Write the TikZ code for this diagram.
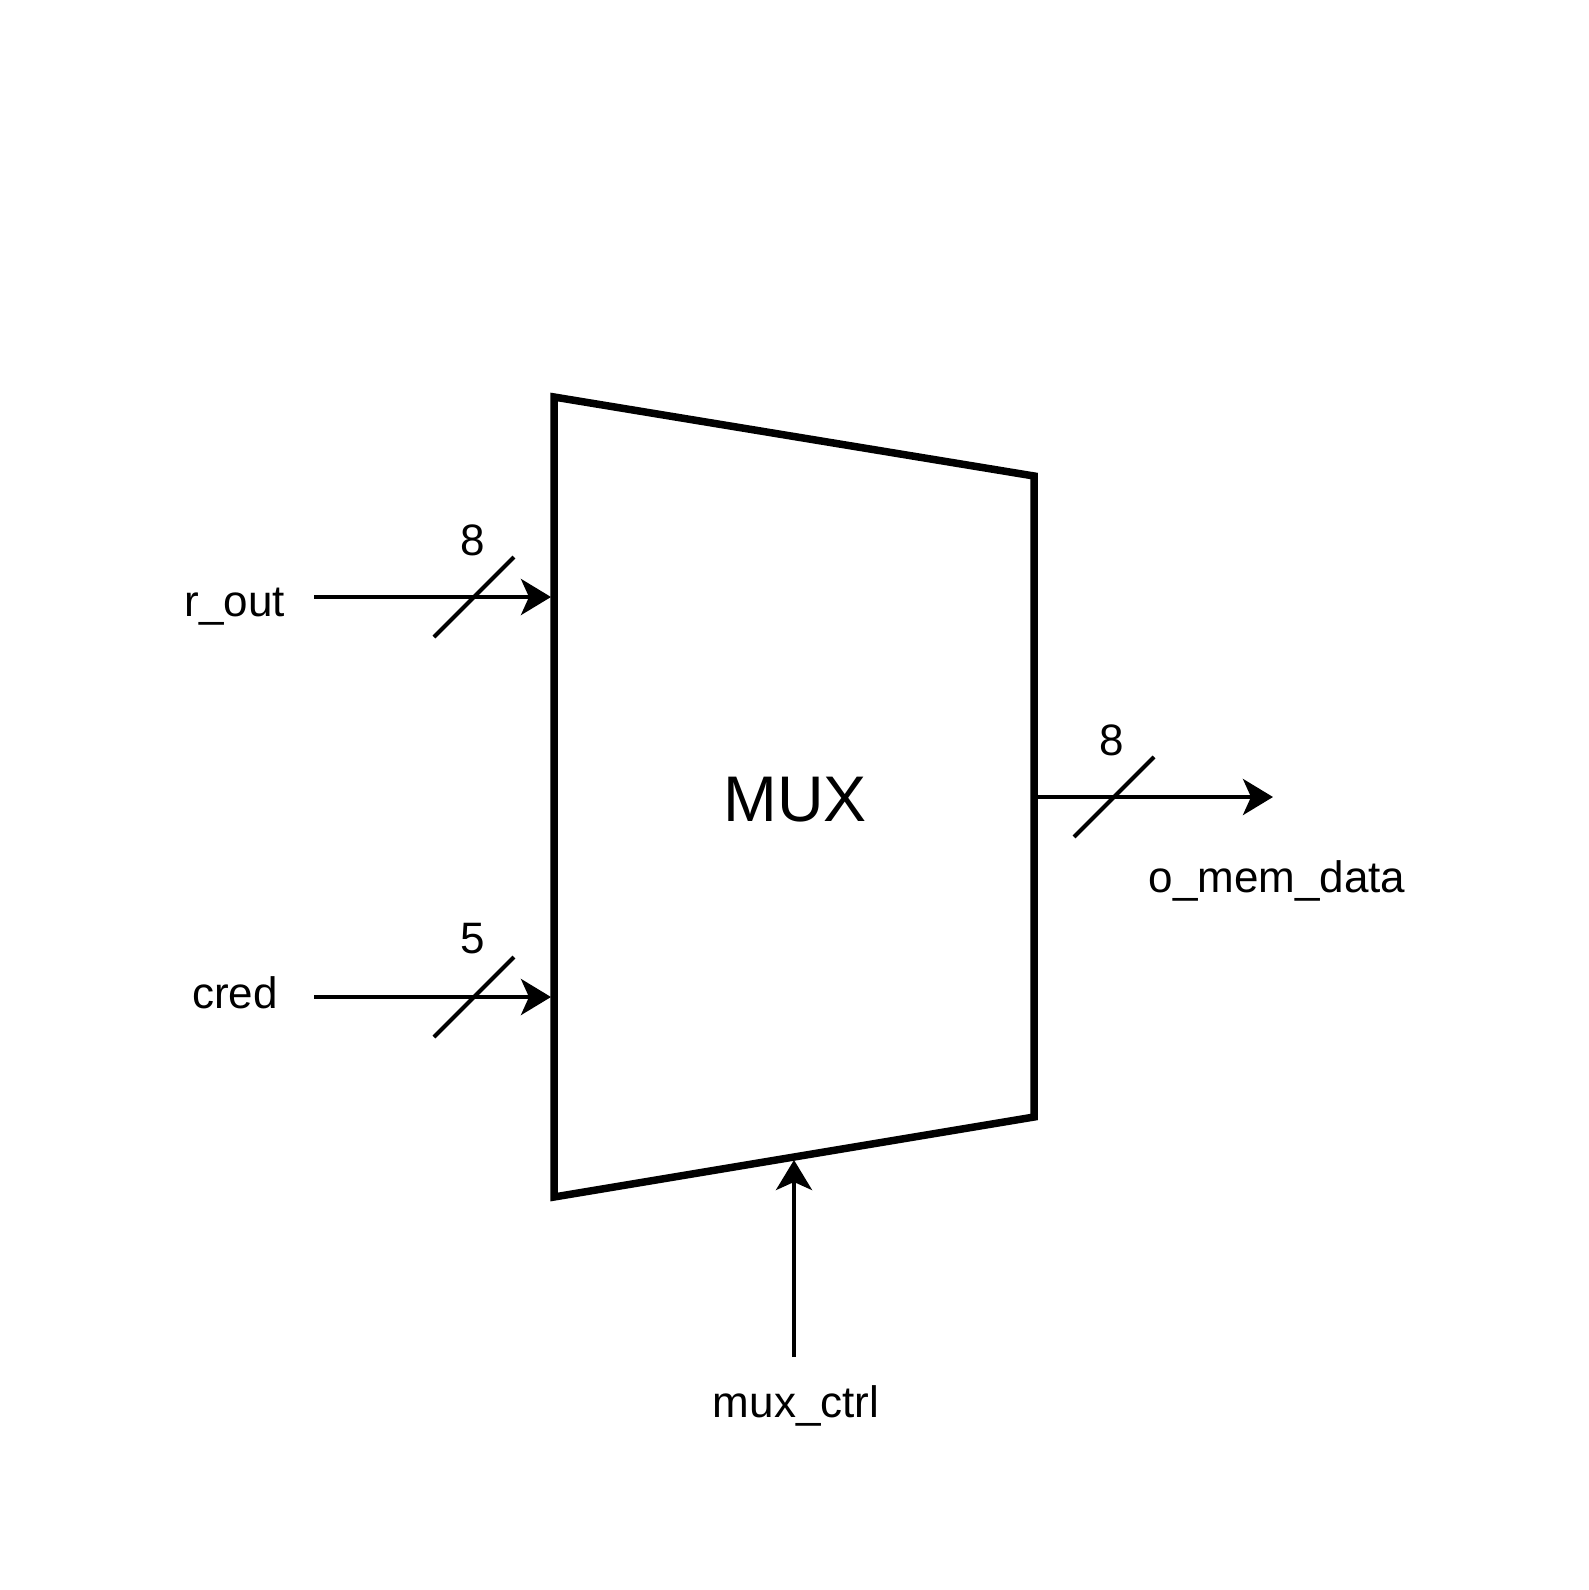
\documentclass[tikz,border=0pt]{standalone}
\usepackage{fontspec}
\setmainfont{Liberation Sans}
\usetikzlibrary{arrows.meta}
\begin{document}
\begin{tikzpicture}[x=1pt,y=-1pt,
  lbl/.style={inner sep=0pt,anchor=base,font=\fontsize{44}{50}\selectfont},
  bigl/.style={inner sep=0pt,anchor=base,font=\fontsize{64.5}{72}\selectfont},
  muxbox/.style={line width=7.5pt,line join=miter},
  wire/.style={line width=4.2pt,-{Stealth[length=30pt,width=36pt,inset=8pt]}},
  busmark/.style={line width=4.2pt}]
\useasboundingbox (0,0) rectangle (1588,1590);
% mux body
\coordinate (tl) at (554,397);
\coordinate (tr) at (1034,476);
\coordinate (br) at (1034,1117);
\coordinate (bl) at (554,1197);
\draw[muxbox] (tl) -- (tr) -- (br) -- (bl) -- cycle;
\node[bigl] (mux) at (795,821) {MUX};
% input r_out
\node[lbl] (rout) at (235,616) {r\_out};
\coordinate (routS) at (314,597);
\coordinate (in1) at (551,597);
\draw[wire] (routS) -- (in1);
\coordinate (s1a) at (434,637);
\coordinate (s1b) at (514,557);
\draw[busmark] (s1a) -- (s1b);
\node[lbl] (w1) at (473,555) {8};
% input cred
\node[lbl] (cred) at (235,1008) {cred};
\coordinate (credS) at (314,997);
\coordinate (in2) at (551,997);
\draw[wire] (credS) -- (in2);
\coordinate (s2a) at (434,1037);
\coordinate (s2b) at (514,957);
\draw[busmark] (s2a) -- (s2b);
\node[lbl] (w2) at (473,953) {5};
% output
\coordinate (outS) at (1034,797);
\coordinate (outE) at (1273,797);
\draw[wire] (outS) -- (outE);
\coordinate (s3a) at (1074,837);
\coordinate (s3b) at (1154,757);
\draw[busmark] (s3a) -- (s3b);
\node[lbl] (w3) at (1112,755) {8};
\node[lbl] (omem) at (1277,892) {o\_mem\_data};
% control
\coordinate (ctrlS) at (794,1357);
\coordinate (ctrlE) at (794,1160);
\draw[wire] (ctrlS) -- (ctrlE);
\node[lbl] (ctrl) at (796,1417) {mux\_ctrl};
\end{tikzpicture}
\end{document}
